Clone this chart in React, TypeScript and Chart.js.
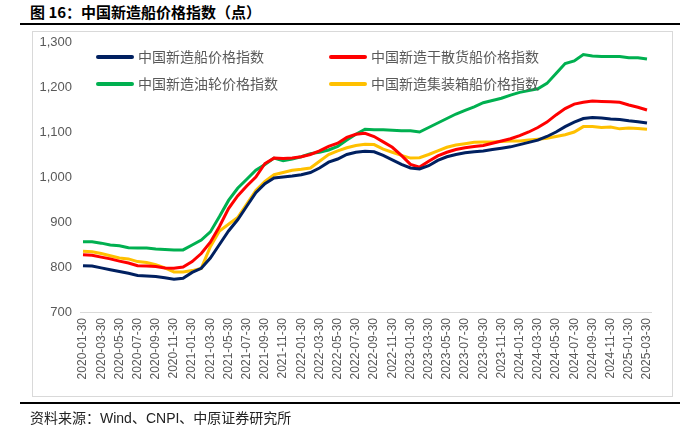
import React, { useEffect, useRef } from "react";
import { Chart, registerables } from "chart.js";

Chart.register(...registerables);

const categories: string[] = [
  "2020-01-30", "2020-02-28", "2020-03-30", "2020-04-30", "2020-05-30", "2020-06-30",
  "2020-07-30", "2020-08-30", "2020-09-30", "2020-10-30", "2020-11-30", "2020-12-30",
  "2021-01-30", "2021-02-28", "2021-03-30", "2021-04-30", "2021-05-30", "2021-06-30",
  "2021-07-30", "2021-08-30", "2021-09-30", "2021-10-30", "2021-11-30", "2021-12-30",
  "2022-01-30", "2022-02-28", "2022-03-30", "2022-04-30", "2022-05-30", "2022-06-30",
  "2022-07-30", "2022-08-30", "2022-09-30", "2022-10-30", "2022-11-30", "2022-12-30",
  "2023-01-30", "2023-02-28", "2023-03-30", "2023-04-30", "2023-05-30", "2023-06-30",
  "2023-07-30", "2023-08-30", "2023-09-30", "2023-10-30", "2023-11-30", "2023-12-30",
  "2024-01-30", "2024-02-28", "2024-03-30", "2024-04-30", "2024-05-30", "2024-06-30",
  "2024-07-30", "2024-08-30", "2024-09-30", "2024-10-30", "2024-11-30", "2024-12-30",
  "2025-01-30", "2025-02-28", "2025-03-30",
];

const seriesNames: string[] = [
  "中国新造船价格指数",
  "中国新造干散货船价格指数",
  "中国新造油轮价格指数",
  "中国新造集装箱船价格指数",
];

const overallIndex: number[] = [
  803, 802, 798, 794, 790, 786, 781, 780, 779, 776, 773, 775,
  788, 797, 820, 850, 880, 905, 935, 965, 985, 998, 1000, 1002,
  1005, 1010, 1020, 1033, 1040, 1050, 1055, 1057, 1056, 1048, 1038, 1028,
  1020, 1018, 1025, 1037, 1045, 1050, 1054, 1056, 1058, 1061, 1064, 1067,
  1072, 1077, 1082, 1090, 1100, 1112, 1122, 1130, 1132, 1131, 1129, 1128,
  1125, 1123, 1120,
];

const bulkIndex: number[] = [
  827, 826, 822, 818, 813, 809, 803, 802, 801, 798, 797, 800,
  812, 830, 855, 890, 930, 958, 980, 1000, 1030, 1042, 1041, 1042,
  1045, 1050, 1058, 1068, 1075, 1088, 1095, 1097, 1090, 1078, 1066, 1048,
  1028, 1022, 1035, 1047, 1055, 1061, 1065, 1068, 1070, 1075, 1080, 1085,
  1092, 1100, 1110, 1122, 1138, 1152, 1162, 1166, 1169, 1168, 1167, 1166,
  1160, 1155, 1149,
];

const tankerIndex: number[] = [
  856, 856, 853, 849, 847, 843, 842, 842, 840, 839, 838, 838,
  849, 860, 878, 912, 948, 975, 995, 1015, 1028, 1042, 1036, 1040,
  1045, 1052, 1055, 1060, 1068, 1082, 1095, 1106, 1105, 1105, 1104, 1103,
  1103, 1100, 1110, 1120, 1130, 1140, 1148, 1156, 1165, 1170, 1175, 1182,
  1188, 1192, 1196, 1208, 1230, 1252, 1258, 1272, 1269, 1268, 1268, 1268,
  1265, 1265, 1262,
];

const containerIndex: number[] = [
  835, 834, 830, 825, 820, 818, 812, 810, 805, 798, 789, 789,
  792, 797, 845, 880, 895, 910, 940, 970, 990, 1005, 1010, 1015,
  1017, 1020, 1035, 1050, 1058, 1065, 1070, 1073, 1072, 1062, 1055, 1048,
  1042, 1043, 1050, 1058, 1066, 1071, 1074, 1077, 1078, 1078, 1079, 1080,
  1080, 1082, 1084, 1086, 1090, 1094, 1100, 1112, 1112, 1110, 1111, 1107,
  1109, 1108, 1106,
];

const yTicks = { min: 700, max: 1300, step: 100 };

const colors = ["#002060", "#FF0000", "#00B050", "#FFC000"];
const FONT = "'Liberation Sans', Arial, 'Noto Sans CJK SC', sans-serif";
const CJK = "'Noto Sans CJK SC', 'Liberation Sans', sans-serif";

const legendPlugin = {
  id: "customLegend",
  afterDraw(chart: any) {
    const ctx = chart.ctx;
    const cols = [98, 331];
    const rows = [57, 84];
    ctx.save();
    chart.data.datasets.forEach((ds: any, i: number) => {
      const x = cols[i % 2];
      const y = rows[Math.floor(i / 2)];
      ctx.strokeStyle = ds.borderColor;
      ctx.lineWidth = 4;
      ctx.lineCap = "round";
      ctx.beginPath();
      ctx.moveTo(x, y);
      ctx.lineTo(x + 34, y);
      ctx.stroke();
      ctx.fillStyle = "#595959";
      ctx.font = `14px ${CJK}`;
      ctx.textBaseline = "middle";
      ctx.textAlign = "left";
      ctx.fillText(ds.label, x + 40, y);
    });
    ctx.restore();
  },
  beforeDatasetsDraw(chart: any) {
    const { ctx, chartArea } = chart;
    ctx.save();
    ctx.strokeStyle = "#d9d9d9";
    ctx.lineWidth = 1;
    ctx.beginPath();
    ctx.moveTo(chartArea.left - 3, chartArea.bottom + 0.5);
    ctx.lineTo(chartArea.right + 5, chartArea.bottom + 0.5);
    ctx.stroke();
    ctx.restore();
  },
};

export default function App() {
  const ref = useRef<HTMLCanvasElement | null>(null);

  useEffect(() => {
    if (!ref.current) return;
    const seriesValues = [overallIndex, bulkIndex, tankerIndex, containerIndex];
    const chart = new Chart(ref.current, {
      type: "line",
      data: {
        labels: categories,
        datasets: seriesValues.map((vals, i) => ({
          label: seriesNames[i],
          data: vals,
          borderColor: colors[i],
          backgroundColor: colors[i],
          borderWidth: 3,
          pointRadius: 0,
          tension: 0,
          fill: false,
        })),
      },
      options: {
        animation: false,
        responsive: false,
        layout: { padding: { left: 0, right: 53, top: 42, bottom: 0 } },
        plugins: {
          legend: { display: false },
          tooltip: { enabled: false },
        },
        scales: {
          x: {
            type: "category",
            offset: false,
            grid: { display: false, drawTicks: false },
            border: { display: false },
            ticks: {
              autoSkip: false,
              maxRotation: 90,
              minRotation: 90,
              padding: 6,
              color: "#595959",
              font: { size: 12, family: FONT },
              callback: (_v: any, idx: number) => (idx % 2 === 0 ? categories[idx] : ""),
            },
            afterFit: (scale: any) => {
              scale.height = 121;
            },
          },
          y: {
            min: yTicks.min,
            max: yTicks.max,
            grid: { display: false, drawTicks: false },
            border: { display: false },
            ticks: {
              stepSize: yTicks.step,
              padding: 11,
              color: "#595959",
              font: { size: 13, family: FONT },
              callback: (v: any) => Number(v).toLocaleString("en-US"),
            },
            afterFit: (scale: any) => {
              scale.width = 83;
            },
          },
        },
      },
      plugins: [legendPlugin],
    });
    return () => chart.destroy();
  }, []);

  return (
    <div style={{ position: "absolute", left: 0, top: 0, width: 700, height: 433, background: "#fff", overflow: "hidden" }}>
      <div
        style={{
          position: "absolute",
          left: 30,
          top: 2,
          fontFamily: CJK,
          fontWeight: 700,
          fontSize: 15,
          color: "#000",
          lineHeight: "20px",
          whiteSpace: "nowrap",
        }}
      >
        图 16：中国新造船价格指数（点）
      </div>
      <div style={{ position: "absolute", left: 20, top: 23, width: 660, height: 2, background: "#000" }} />
      <div
        style={{
          position: "absolute",
          left: 32,
          top: 31,
          width: 641,
          height: 366,
          border: "1px solid #d9d9d9",
          boxSizing: "border-box",
        }}
      />
      <canvas ref={ref} width={700} height={433} style={{ position: "absolute", left: 0, top: 0, width: 700, height: 433 }} />
      <div style={{ position: "absolute", left: 20, top: 402, width: 660, height: 2, background: "#000" }} />
      <div
        style={{
          position: "absolute",
          left: 30,
          top: 408,
          fontFamily: CJK,
          fontSize: 14,
          color: "#222",
          lineHeight: "19px",
          whiteSpace: "nowrap",
        }}
      >
        资料来源：<span style={{ fontFamily: FONT }}>Wind</span>、<span style={{ fontFamily: FONT }}>CNPI</span>、中原证券研究所
      </div>
    </div>
  );
}
